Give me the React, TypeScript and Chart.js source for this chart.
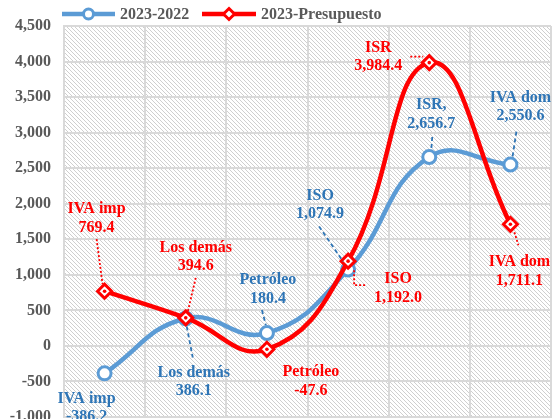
import React, { useEffect, useRef } from 'react';
import { Chart, registerables } from 'chart.js';
Chart.register(...registerables);

// ---- data ----
const categories = ['IVA imp', 'Los demás', 'Petróleo', 'ISO', 'ISR', 'IVA dom'];
const series1Name = '2023-2022';
const series1 = [-386.2, 386.1, 180.4, 1074.9, 2656.7, 2550.6];
const series2Name = '2023-Presupuesto';
const series2 = [769.4, 394.6, -47.6, 1192.0, 3984.4, 1711.1];
const series1Labels = ['IVA imp', 'Los demás', 'Petróleo', 'ISO', 'ISR,', 'IVA dom'];
const series2Labels = ['IVA imp', 'Los demás', 'Petróleo', 'ISO', 'ISR', 'IVA dom'];
const yMin = -1000;
const yMax = 4500;
const yStep = 500;

// ---- styles ----
const BLUE = '#5B9BD5';
const BLUE_TXT = '#2E75B6';
const RED = '#FF0000';
const GRID = '#D9D9D9';
const AXIS_TXT = '#595959';
const FONT = '"Liberation Serif", "Times New Roman", serif';

type LabelPos = { dx: number; dy: number; leader: number[][] | null };
const blueLabelPos: LabelPos[] = [
  { dx: -18, dy: 25, leader: null },
  { dx: 8, dy: 54, leader: [[1, 8], [7, 39]] },
  { dx: 1, dy: -53, leader: [[-5, -23], [-1, -8]] },
  { dx: -28, dy: -74, leader: [[-29, -43], [-5, -8]] },
  { dx: 2, dy: -52, leader: [[3, -20], [2, -7]] },
  { dx: 10, dy: -67, leader: [[6, -33], [2, -7]] },
];
const redLabelPos: LabelPos[] = [
  { dx: -8, dy: -82, leader: [[-8, -52], [-2, -7]] },
  { dx: 10, dy: -70, leader: [[10, -40], [2, -6]] },
  { dx: 44, dy: 23, leader: null },
  { dx: 50, dy: 18, leader: [[6, 9], [6, 24], [18, 24]] },
  { dx: -51, dy: -15, leader: [[-19, -6], [-6, -6]] },
  { dx: 9, dy: 38, leader: [[4, 8], [8, 21]] },
];

const fmt = (v: number) =>
  v.toLocaleString('en-US', { minimumFractionDigits: 1, maximumFractionDigits: 1 });

function makePattern(ctx: CanvasRenderingContext2D) {
  const c = document.createElement('canvas');
  c.width = 4;
  c.height = 4;
  const p = c.getContext('2d')!;
  p.fillStyle = '#ffffff';
  p.fillRect(0, 0, 4, 4);
  p.fillStyle = '#CFCFCF';
  for (let i = 0; i < 4; i++) p.fillRect(i, i, 1, 1);
  return ctx.createPattern(c, 'repeat')!;
}

const bgPlugin = {
  id: 'bgPattern',
  beforeDraw(chart: any) {
    const { ctx, chartArea: a } = chart;
    ctx.save();
    ctx.fillStyle = '#ffffff';
    ctx.fillRect(0, 0, chart.width, chart.height);
    ctx.fillStyle = makePattern(ctx);
    ctx.fillRect(a.left, a.top, a.right - a.left, a.bottom - a.top);
    ctx.restore();
  },
};

function drawLabels(ctx: CanvasRenderingContext2D, meta: any, values: number[], names: string[], pos: LabelPos[], color: string, dash: number[]) {
  meta.data.forEach((el: any, i: number) => {
    const x = el.x;
    const y = el.y;
    const p = pos[i];
    if (p.leader) {
      ctx.save();
      ctx.strokeStyle = color;
      ctx.lineWidth = 1.8;
      ctx.setLineDash(dash);
      ctx.beginPath();
      p.leader.forEach((pt, k) => {
        if (k === 0) ctx.moveTo(x + pt[0], y + pt[1]);
        else ctx.lineTo(x + pt[0], y + pt[1]);
      });
      ctx.stroke();
      ctx.restore();
    }
    ctx.save();
    ctx.fillStyle = color;
    ctx.font = `bold 16px ${FONT}`;
    ctx.textAlign = 'center';
    ctx.textBaseline = 'middle';
    ctx.fillText(names[i], x + p.dx, y + p.dy);
    ctx.fillText(fmt(values[i]), x + p.dx, y + p.dy + 18.5);
    ctx.restore();
  });
}

const labelPlugin = {
  id: 'dataLabels',
  afterDatasetsDraw(chart: any) {
    const ctx = chart.ctx as CanvasRenderingContext2D;
    const redMeta = chart.getDatasetMeta(1);
    const blueMeta = chart.getDatasetMeta(0);
    ctx.save();
    ctx.fillStyle = RED;
    redMeta.data.forEach((el: any) => {
      ctx.beginPath();
      ctx.arc(el.x, el.y, 1.8, 0, Math.PI * 2);
      ctx.fill();
    });
    ctx.restore();
    drawLabels(ctx, blueMeta, series1, series1Labels, blueLabelPos, BLUE_TXT, [4, 3]);
    drawLabels(ctx, redMeta, series2, series2Labels, redLabelPos, RED, [2, 2]);
  },
  afterDraw(chart: any) {
    const ctx = chart.ctx as CanvasRenderingContext2D;
    const y = 14;
    const items = [
      { x0: 62, x1: 115, text: series1Name, color: BLUE, marker: 'circle' },
      { x0: 202, x1: 256, text: series2Name, color: RED, marker: 'diamond' },
    ];
    items.forEach((it) => {
      ctx.save();
      ctx.strokeStyle = it.color;
      ctx.lineWidth = 4.5;
      ctx.beginPath();
      ctx.moveTo(it.x0, y);
      ctx.lineTo(it.x1, y);
      ctx.stroke();
      const cx = (it.x0 + it.x1) / 2;
      ctx.fillStyle = '#fff';
      ctx.lineWidth = 3;
      ctx.beginPath();
      if (it.marker === 'circle') {
        ctx.arc(cx, y, 5, 0, Math.PI * 2);
      } else {
        const r = 5.5;
        ctx.moveTo(cx, y - r);
        ctx.lineTo(cx + r, y);
        ctx.lineTo(cx, y + r);
        ctx.lineTo(cx - r, y);
        ctx.closePath();
      }
      ctx.fill();
      ctx.stroke();
      ctx.fillStyle = AXIS_TXT;
      ctx.font = `bold 16px ${FONT}`;
      ctx.textAlign = 'left';
      ctx.textBaseline = 'middle';
      ctx.fillText(it.text, it.x1 + 5, y + 1);
      ctx.restore();
    });
  },
};

export default function App() {
  const ref = useRef<HTMLCanvasElement | null>(null);
  useEffect(() => {
    document.body.style.margin = '0';
    document.body.style.overflow = 'hidden';
    const canvas = ref.current!;
    const chart = new Chart(canvas, {
      type: 'line',
      data: {
        labels: categories,
        datasets: [
          {
            label: series1Name,
            data: series1,
            borderColor: BLUE,
            borderWidth: 4.5,
            backgroundColor: BLUE,
            pointStyle: 'circle',
            pointRadius: 6.5,
            pointBorderWidth: 3,
            pointBackgroundColor: '#ffffff',
            pointBorderColor: BLUE,
            tension: 0.45,
            order: 1,
            clip: false,
          },
          {
            label: series2Name,
            data: series2,
            borderColor: RED,
            borderWidth: 4.5,
            backgroundColor: RED,
            pointStyle: 'rectRot',
            pointRadius: 7,
            pointBorderWidth: 3,
            pointBackgroundColor: '#ffffff',
            pointBorderColor: RED,
            tension: 0.45,
            order: 0,
            clip: false,
          },
        ],
      },
      options: {
        responsive: true,
        maintainAspectRatio: false,
        devicePixelRatio: 1,
        animation: false,
        layout: { padding: { left: 0, right: 1, top: 26, bottom: 2 }, autoPadding: false },
        plugins: { legend: { display: false }, tooltip: { enabled: false } },
        scales: {
          x: {
            type: 'category',
            offset: true,
            grid: { offset: true, color: GRID, lineWidth: 2, drawTicks: false },
            border: { color: GRID, width: 2 },
            ticks: { display: false, padding: 0 },
            afterFit: (s: any) => {
              s.height = 0;
            },
          },
          y: {
            min: yMin,
            max: yMax,
            ticks: {
              stepSize: yStep,
              color: AXIS_TXT,
              font: { family: FONT, size: 16, weight: 'bold' },
              padding: 13,
              callback: (v: any) => Number(v).toLocaleString('en-US'),
            },
            grid: { color: GRID, lineWidth: 2, drawTicks: false },
            border: { color: GRID, width: 2 },
            afterFit: (s: any) => {
              s.width = 64;
              s.paddingTop = 0;
              s.paddingBottom = 0;
            },
          },
        },
      },
      plugins: [bgPlugin, labelPlugin],
    } as any);
    return () => chart.destroy();
  }, []);
  return (
    <div style={{ width: 552, height: 419, position: 'relative' }}>
      <canvas ref={ref} style={{ display: 'block' }} />
    </div>
  );
}
